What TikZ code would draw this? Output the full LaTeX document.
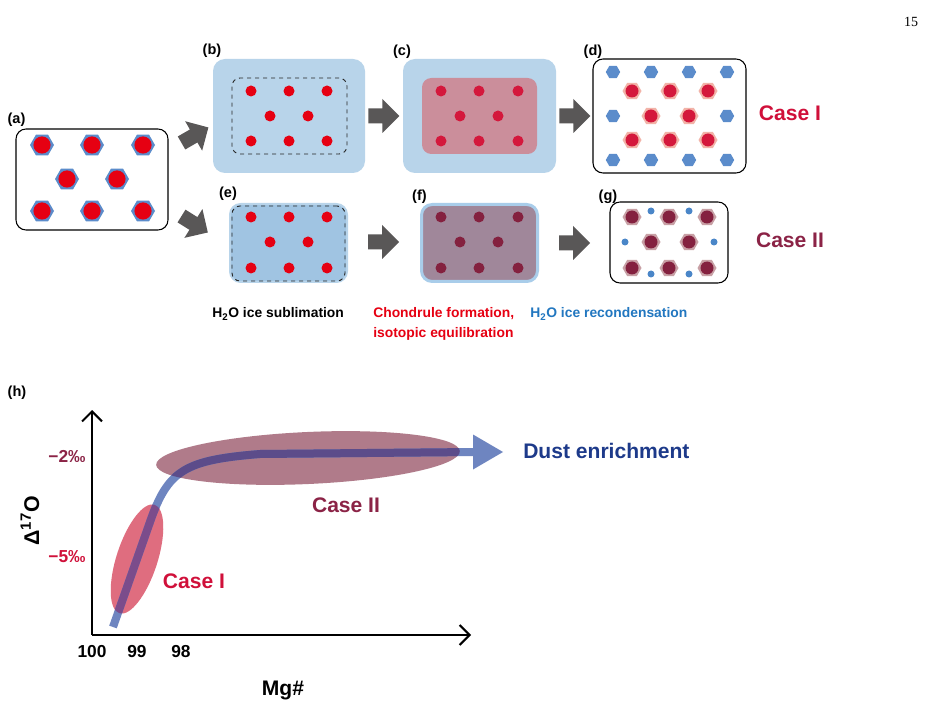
\documentclass[tikz,border=0pt]{standalone}
\usepackage{fontspec}
\newfontfamily\hv{Liberation Sans}
\newfontfamily\tms{Liberation Serif}
\usetikzlibrary{arrows.meta,calc}

\definecolor{hexblue}{HTML}{5B8CCB}
\definecolor{dotred}{HTML}{E60012}
\definecolor{arrowgray}{HTML}{595757}
\definecolor{lightblue}{HTML}{B8D4EA}
\definecolor{midblue}{HTML}{A0C4E2}
\definecolor{pinkfill}{HTML}{CB8E9B}
\definecolor{crimson}{HTML}{D4183C}
\definecolor{salmonhex}{HTML}{F2B3A8}
\definecolor{mauvefill}{HTML}{A0879A}
\definecolor{fborder}{HTML}{A9CDEA}
\definecolor{maroondot}{HTML}{84213F}
\definecolor{ghex}{HTML}{C8A0A5}
\definecolor{gblue}{HTML}{4A86C8}
\definecolor{caseone}{HTML}{D0103A}
\definecolor{casetwo}{HTML}{8B2346}
\definecolor{recblue}{HTML}{2277C0}
\definecolor{curveblue}{HTML}{6E85C0}
\definecolor{ellII}{HTML}{B07B8A}
\definecolor{ovII}{HTML}{5C4C8A}
\definecolor{ellI}{HTML}{DF6D7F}
\definecolor{ovI}{HTML}{7B4C8B}
\definecolor{navy}{HTML}{1D3A8A}

\tikzset{
  fatarrow/.pic={\fill[arrowgray] (0,-7.5) -- (14,-7.5) -- (14,-17) -- (31,0) -- (14,17) -- (14,7.5) -- (0,7.5) -- cycle;},
  panelbox/.style={rounded corners=8pt, inner sep=0pt},
  innerbox/.style={rounded corners=6pt, inner sep=0pt, minimum width=86.25pt, minimum height=57pt},
  plbl/.style={font=\hv\bfseries\fontsize{10.9}{12}\selectfont, inner sep=0pt},
  casetxt/.style={font=\hv\bfseries\fontsize{15.8}{18}\selectfont, inner sep=0pt},
  steptxt/.style={font=\hv\bfseries\fontsize{10.4}{15}\selectfont, inner sep=0pt},
  ticktxt/.style={font=\hv\bfseries\fontsize{13}{15}\selectfont, inner sep=0pt},
  axisline/.style={line width=1.5pt, black, -{Straight Barb[length=7.5pt,width=15pt]}},
  curveline/.style={line width=6pt},
}

\begin{document}
\begin{tikzpicture}[x=0.75pt,y=-0.75pt]
\useasboundingbox (0,0) rectangle (932,702);
\fill[white] (0,0) rectangle (932,702);

% page number
\node[font=\tms\fontsize{10.5}{12}\selectfont, inner sep=0pt] (pg) at (911,22) {15};

% ---------- panel (a)
\node[panelbox, draw=black, line width=0.8pt, rounded corners=7.5pt, minimum width=114pt, minimum height=75.75pt] (a) at (92,179.5) {};
\node[plbl] (la) at (16.5,120) {(a)};
\foreach \x/\y in {42/145,92/145,143/145,67/179,117/179,42/211,92/211,143/211} {
  \fill[hexblue] (\x,\y) +(0:12) -- +(60:12) -- +(120:12) -- +(180:12) -- +(240:12) -- +(300:12) -- cycle;
  \fill[dotred] (\x,\y) circle[radius=8.6];
}

% ---------- panel (b)
\node[panelbox, fill=lightblue, rounded corners=9pt, minimum width=114pt, minimum height=85.5pt] (b) at (289,116) {};
\node[innerbox, draw=black!85, dashed, line width=0.7pt] (bi) at (289.5,116) {};
\node[plbl] (lb) at (212,51) {(b)};
\foreach \x/\y in {251/91,289/91,327/91,270/116,308/116,251/141,289/141,327/141}
  \fill[dotred] (\x,\y) circle[radius=5.5];

% ---------- panel (c)
\node[panelbox, fill=lightblue, rounded corners=9pt, minimum width=114.75pt, minimum height=85.5pt] (c) at (479.5,116) {};
\node[innerbox, fill=pinkfill, rounded corners=7pt] (ci) at (479.5,116) {};
\node[plbl] (lc) at (402,52) {(c)};
\foreach \x/\y in {441/91,479/91,518/91,460/116,498/116,441/141,479/141,518/141}
  \fill[crimson] (\x,\y) circle[radius=5.5];

% ---------- panel (d)
\node[panelbox, draw=black, line width=0.8pt, rounded corners=7.5pt, minimum width=114.75pt, minimum height=85.5pt] (d) at (669.5,116) {};
\node[plbl] (ld) at (593,52) {(d)};
\foreach \x/\y in {613/72,651/72,689/72,727/72,613/116,727/116,613/160,651/160,689/160,727/160}
  \fill[hexblue] (\x,\y) +(0:7.2) -- +(60:7.2) -- +(120:7.2) -- +(180:7.2) -- +(240:7.2) -- +(300:7.2) -- cycle;
\foreach \x/\y in {632/91,670/91,708/91,651/116,689/116,632/140,670/140,708/140} {
  \fill[salmonhex] (\x,\y) +(0:9.5) -- +(60:9.5) -- +(120:9.5) -- +(180:9.5) -- +(240:9.5) -- +(300:9.5) -- cycle;
  \fill[crimson] (\x,\y) circle[radius=6.5];
}
\node[casetxt, text=caseone] (c1) at (790,113) {Case I};

% ---------- panel (e)
\node[panelbox, fill=midblue, draw=lightblue, line width=1.5pt, minimum width=87.75pt, minimum height=58.5pt] (e) at (288.5,243) {};
\node[innerbox, draw=black!85, dashed, line width=0.7pt, minimum width=84.75pt, minimum height=56.25pt] (ei) at (288.5,243.5) {};
\node[plbl] (le) at (228,194) {(e)};
\foreach \x/\y in {251/217,289/217,327/217,270/242,308/242,251/268,289/268,327/268}
  \fill[dotred] (\x,\y) circle[radius=5.5];

% ---------- panel (f)
\node[panelbox, fill=mauvefill, draw=fborder, line width=2.25pt, minimum width=87pt, minimum height=57.75pt] (f) at (479.5,243) {};
\node[plbl] (lf) at (419.5,197) {(f)};
\foreach \x/\y in {441/217,479/217,518/217,460/242,498/242,441/268,479/268,518/268}
  \fill[maroondot] (\x,\y) circle[radius=5.5];

% ---------- panel (g)
\node[panelbox, draw=black, line width=0.8pt, rounded corners=7.5pt, minimum width=88.5pt, minimum height=60.75pt] (g) at (669,242.5) {};
\node[plbl] (lg) at (608,197) {(g)};
\foreach \x/\y in {632/217,669/217,707/217,651/242,689/242,632/268,669/268,707/268} {
  \fill[ghex] (\x,\y) +(0:9.5) -- +(60:9.5) -- +(120:9.5) -- +(180:9.5) -- +(240:9.5) -- +(300:9.5) -- cycle;
  \fill[maroondot] (\x,\y) circle[radius=6.5];
}
\foreach \x/\y in {651/211,689/211,625/242,714/242,651/274,689/274}
  \fill[gblue] (\x,\y) circle[radius=3.5];
\node[casetxt, text=casetwo] (c2) at (790,240) {Case II};

% ---------- fat arrows
\pic[rotate=30] at ([xshift=9.75pt,yshift=27.4pt]a.east) {fatarrow};
\pic[rotate=-32] at ([xshift=9.75pt,yshift=-27.4pt]a.east) {fatarrow};
\pic at ([xshift=2.25pt]b.east) {fatarrow};
\pic at ([xshift=15pt,yshift=0.75pt]e.east) {fatarrow};
\pic at ([xshift=2.25pt]c.east) {fatarrow};
\pic at ([xshift=15pt]f.east) {fatarrow};

% ---------- step labels
\node[steptxt, anchor=base west] (s1) at (212,318) {H\textsubscript{2}O ice sublimation};
\node[steptxt, anchor=west, align=left, text=dotred] (s2) at (373,324) {Chondrule formation,\\isotopic equilibration};
\node[steptxt, anchor=base west, text=recblue] (s3) at (530,318) {H\textsubscript{2}O ice recondensation};

% ---------- plot (h)
\node[plbl] (lh) at (17,393) {(h)};
\coordinate (O) at (92,635);
\coordinate (ytip) at (92,410);
\coordinate (xtip) at (471,635);
\draw[axisline] (O) -- (ytip);
\draw[axisline] (O) -- (xtip);

\def\curvepath{(113,627) -- (150,522) .. controls (168,470) and (185,460) .. (260,454) -- (474,452)}
\fill[ellII, rotate around={2.6:(308,458)}] (308,458) ellipse [x radius=152, y radius=26];
\fill[ellI, rotate around={72:(137,559)}] (137,559) ellipse [x radius=57, y radius=20.5];
\draw[curveline, curveblue] \curvepath;
\coordinate (headbase) at (473,452);
\coordinate (headtip) at (503,452);
\fill[curveblue] ($(headbase)+(0,-17.5)$) -- (headtip) -- ($(headbase)+(0,17.5)$) -- cycle;
\begin{scope}
  \clip[rotate around={2.6:(308,458)}] (308,458) ellipse [x radius=152, y radius=26];
  \draw[curveline, ovII] \curvepath;
\end{scope}
\begin{scope}
  \clip[rotate around={72:(137,559)}] (137,559) ellipse [x radius=57, y radius=20.5];
  \draw[curveline, ovI] \curvepath;
\end{scope}

\node[casetxt, text=navy, anchor=west] (dust) at (523,451) {Dust enrichment};
\node[casetxt, text=casetwo] (p2) at (346,505) {Case II};
\node[casetxt, text=caseone] (p1) at (194,581) {Case I};

\node[ticktxt, text=casetwo] (m2) at (67,456) {−2‰};
\node[ticktxt, text=caseone] (m5) at (67,557) {−5‰};
\node[ticktxt] (t100) at (92,652) {100};
\node[ticktxt] (t99) at (137,652) {99};
\node[ticktxt] (t98) at (181,652) {98};
\node[casetxt] (mg) at (283,690) {Mg\#};
\node[font=\hv\bfseries\fontsize{16}{18}\selectfont, inner sep=0pt, rotate=90] (dO) at (30,521) {Δ\textsuperscript{17}O};
\end{tikzpicture}
\end{document}
